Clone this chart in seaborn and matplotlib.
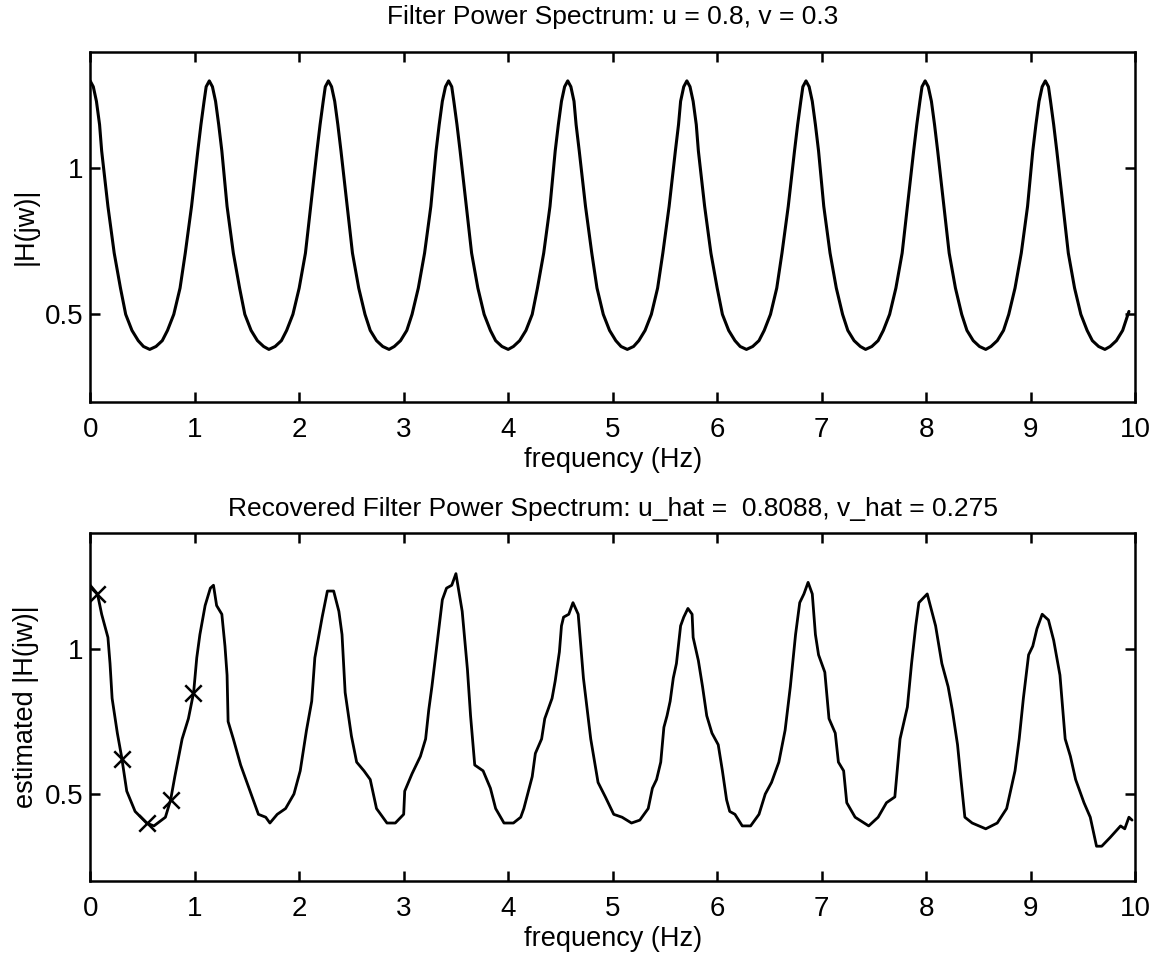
import numpy as np
import pandas as pd
import matplotlib
matplotlib.use("Agg")
import matplotlib.pyplot as plt
import seaborn as sns

# true filter spectrum, one row per period (Hz)
freq = [0.00, 0.03, 0.06, 0.09, 0.11, 0.17, 0.23, 0.29, 0.34, 0.40, 0.46, 0.51, 0.57, 0.63, 0.69, 0.74, 0.80, 0.86, 0.91, 0.97, 1.03, 1.06, 1.09, 1.11,
        1.14, 1.17, 1.20, 1.23, 1.26, 1.31, 1.37, 1.43, 1.48, 1.54, 1.60, 1.66, 1.71, 1.77, 1.83, 1.88, 1.94, 2.00, 2.06, 2.11, 2.17, 2.20, 2.23, 2.25,
        2.28, 2.31, 2.34, 2.37, 2.40, 2.46, 2.51, 2.57, 2.63, 2.68, 2.74, 2.80, 2.86, 2.91, 2.97, 3.03, 3.08, 3.14, 3.20, 3.26, 3.31, 3.34, 3.37, 3.40,
        3.43, 3.46, 3.48, 3.51, 3.54, 3.60, 3.65, 3.71, 3.77, 3.83, 3.88, 3.94, 4.00, 4.05, 4.11, 4.17, 4.23, 4.28, 4.34, 4.40, 4.45, 4.48, 4.51, 4.54,
        4.57, 4.60, 4.63, 4.65, 4.68, 4.74, 4.80, 4.85, 4.91, 4.97, 5.03, 5.08, 5.14, 5.20, 5.25, 5.31, 5.37, 5.43, 5.48, 5.54, 5.60, 5.63, 5.65, 5.68,
        5.71, 5.74, 5.77, 5.80, 5.82, 5.88, 5.94, 6.00, 6.05, 6.11, 6.17, 6.22, 6.28, 6.34, 6.40, 6.45, 6.51, 6.57, 6.62, 6.68, 6.74, 6.77, 6.80, 6.82,
        6.85, 6.88, 6.91, 6.94, 6.97, 7.02, 7.08, 7.14, 7.20, 7.25, 7.31, 7.37, 7.42, 7.48, 7.54, 7.59, 7.65, 7.71, 7.77, 7.82, 7.88, 7.91, 7.94, 7.96,
        7.99, 8.02, 8.05, 8.08, 8.11, 8.17, 8.22, 8.28, 8.34, 8.39, 8.45, 8.51, 8.57, 8.62, 8.68, 8.74, 8.79, 8.85, 8.91, 8.97, 9.02, 9.05, 9.08, 9.11,
        9.14, 9.17, 9.19, 9.22, 9.25, 9.31, 9.36, 9.42, 9.48, 9.54, 9.59, 9.65, 9.71, 9.76, 9.82, 9.88, 9.94]

H_true = [1.30, 1.28, 1.23, 1.15, 1.06, 0.87, 0.71, 0.59, 0.50, 0.445, 0.41, 0.39, 0.38, 0.39, 0.41, 0.445, 0.50, 0.59, 0.71, 0.87, 1.06, 1.15, 1.23, 1.28,
          1.30, 1.28, 1.23, 1.15, 1.06, 0.87, 0.71, 0.59, 0.50, 0.445, 0.41, 0.39, 0.38, 0.39, 0.41, 0.445, 0.50, 0.59, 0.71, 0.87, 1.06, 1.15, 1.23, 1.28,
          1.30, 1.28, 1.23, 1.15, 1.06, 0.87, 0.71, 0.59, 0.50, 0.445, 0.41, 0.39, 0.38, 0.39, 0.41, 0.445, 0.50, 0.59, 0.71, 0.87, 1.06, 1.15, 1.23, 1.28,
          1.30, 1.28, 1.23, 1.15, 1.06, 0.87, 0.71, 0.59, 0.50, 0.445, 0.41, 0.39, 0.38, 0.39, 0.41, 0.445, 0.50, 0.59, 0.71, 0.87, 1.06, 1.15, 1.23, 1.28,
          1.30, 1.28, 1.23, 1.15, 1.06, 0.87, 0.71, 0.59, 0.50, 0.445, 0.41, 0.39, 0.38, 0.39, 0.41, 0.445, 0.50, 0.59, 0.71, 0.87, 1.06, 1.15, 1.23, 1.28,
          1.30, 1.28, 1.23, 1.15, 1.06, 0.87, 0.71, 0.59, 0.50, 0.445, 0.41, 0.39, 0.38, 0.39, 0.41, 0.445, 0.50, 0.59, 0.71, 0.87, 1.06, 1.15, 1.23, 1.28,
          1.30, 1.28, 1.23, 1.15, 1.06, 0.87, 0.71, 0.59, 0.50, 0.445, 0.41, 0.39, 0.38, 0.39, 0.41, 0.445, 0.50, 0.59, 0.71, 0.87, 1.06, 1.15, 1.23, 1.28,
          1.30, 1.28, 1.23, 1.15, 1.06, 0.87, 0.71, 0.59, 0.50, 0.445, 0.41, 0.39, 0.38, 0.39, 0.41, 0.445, 0.50, 0.59, 0.71, 0.87, 1.06, 1.15, 1.23, 1.28,
          1.30, 1.28, 1.23, 1.15, 1.06, 0.87, 0.71, 0.59, 0.50, 0.445, 0.41, 0.39, 0.38, 0.39, 0.41, 0.445, 0.51]

# recovered (estimated) spectrum
freq_est = [0.00, 0.07, 0.11, 0.17, 0.19, 0.21, 0.26, 0.30, 0.35, 0.43, 0.54, 0.61, 0.72, 0.77, 0.81, 0.88, 0.94, 0.99,
            1.02, 1.05, 1.10, 1.15, 1.18, 1.21, 1.26, 1.29, 1.31, 1.32, 1.37, 1.44, 1.52, 1.56, 1.61, 1.68, 1.72, 1.79,
            1.87, 1.95, 2.01, 2.07, 2.12, 2.15, 2.19, 2.22, 2.27, 2.33, 2.38, 2.41, 2.44, 2.50, 2.55, 2.62, 2.68, 2.74,
            2.84, 2.92, 3.00, 3.01, 3.08, 3.16, 3.21, 3.24, 3.27, 3.31, 3.37, 3.41, 3.46, 3.50, 3.56, 3.61, 3.64, 3.68,
            3.76, 3.83, 3.88, 3.96, 4.05, 4.12, 4.15, 4.23, 4.26, 4.32, 4.35, 4.42, 4.45, 4.49, 4.51, 4.53, 4.58, 4.62,
            4.67, 4.72, 4.79, 4.86, 4.93, 5.01, 5.09, 5.18, 5.26, 5.34, 5.38, 5.42, 5.46, 5.49, 5.52, 5.55, 5.58, 5.61,
            5.65, 5.68, 5.72, 5.76, 5.77, 5.82, 5.86, 5.90, 5.95, 6.01, 6.05, 6.09, 6.12, 6.17, 6.24, 6.32, 6.40, 6.46,
            6.52, 6.59, 6.65, 6.70, 6.75, 6.79, 6.83, 6.87, 6.91, 6.94, 6.97, 7.03, 7.07, 7.13, 7.16, 7.21, 7.24, 7.32,
            7.45, 7.54, 7.62, 7.70, 7.75, 7.82, 7.86, 7.90, 7.93, 8.01, 8.09, 8.15, 8.21, 8.25, 8.30, 8.33, 8.37, 8.44,
            8.57, 8.68, 8.77, 8.85, 8.89, 8.93, 8.98, 9.02, 9.06, 9.11, 9.17, 9.22, 9.28, 9.33, 9.38, 9.43, 9.51, 9.57,
            9.63, 9.68, 9.76, 9.86, 9.90, 9.94, 9.97]
H_est = [1.22, 1.19, 1.12, 1.04, 0.95, 0.83, 0.71, 0.63, 0.51, 0.44, 0.40, 0.39, 0.42, 0.48, 0.56, 0.69, 0.76, 0.85,
         0.97, 1.05, 1.15, 1.21, 1.22, 1.15, 1.12, 1.01, 0.91, 0.75, 0.69, 0.60, 0.52, 0.48, 0.43, 0.42, 0.40, 0.43,
         0.45, 0.50, 0.58, 0.72, 0.82, 0.97, 1.05, 1.11, 1.20, 1.20, 1.13, 1.05, 0.85, 0.70, 0.61, 0.58, 0.55, 0.45,
         0.40, 0.40, 0.43, 0.51, 0.57, 0.63, 0.69, 0.79, 0.87, 0.99, 1.17, 1.21, 1.22, 1.26, 1.13, 0.93, 0.77, 0.60,
         0.58, 0.52, 0.45, 0.40, 0.40, 0.42, 0.45, 0.56, 0.64, 0.69, 0.76, 0.83, 0.89, 0.99, 1.08, 1.11, 1.12, 1.16,
         1.12, 0.90, 0.69, 0.54, 0.49, 0.43, 0.42, 0.40, 0.41, 0.45, 0.52, 0.55, 0.61, 0.73, 0.77, 0.82, 0.90, 0.95,
         1.08, 1.11, 1.14, 1.12, 1.04, 0.96, 0.87, 0.77, 0.71, 0.67, 0.58, 0.48, 0.44, 0.43, 0.39, 0.39, 0.43, 0.50,
         0.54, 0.61, 0.72, 0.87, 1.05, 1.16, 1.19, 1.23, 1.19, 1.05, 0.98, 0.92, 0.76, 0.71, 0.61, 0.58, 0.47, 0.42,
         0.39, 0.42, 0.47, 0.49, 0.69, 0.80, 0.95, 1.08, 1.16, 1.19, 1.08, 0.95, 0.87, 0.79, 0.67, 0.56, 0.42, 0.40,
         0.38, 0.40, 0.45, 0.58, 0.69, 0.83, 0.98, 1.01, 1.07, 1.12, 1.10, 1.03, 0.91, 0.69, 0.63, 0.55, 0.47, 0.42,
         0.32, 0.32, 0.35, 0.39, 0.38, 0.42, 0.41]

# sample points marked with x
freq_marks = [0.07, 0.30, 0.54, 0.77, 0.98]
H_marks = [1.19, 0.62, 0.40, 0.48, 0.85]

yticks = [0.5, 1]
ytick_labels = ["0.5", "1"]
xticks = list(range(0, 11))

sns.set_style("ticks")
plt.rcParams['font.family'] = ['Liberation Sans', 'DejaVu Sans']
plt.rcParams['axes.linewidth'] = 1.8
plt.rcParams['text.color'] = 'black'
plt.rcParams['axes.labelcolor'] = 'black'
plt.rcParams['axes.titlecolor'] = 'black'

fig = plt.figure(figsize=(11.56, 9.57), dpi=100)
ax1 = fig.add_axes([0.078, 0.580, 0.904, 0.366])
ax2 = fig.add_axes([0.078, 0.0794, 0.904, 0.3636])

true_df = pd.DataFrame({'freq': freq, 'H': H_true})
est_df = pd.DataFrame({'freq': freq_est, 'H': H_est})
mark_df = pd.DataFrame({'freq': freq_marks, 'H': H_marks})

sns.lineplot(data=true_df, x='freq', y='H', ax=ax1, color='black', linewidth=2.2, estimator=None, sort=False)
sns.lineplot(data=est_df, x='freq', y='H', ax=ax2, color='black', linewidth=2.0, estimator=None, sort=False)
sns.scatterplot(data=mark_df, x='freq', y='H', ax=ax2, marker='x', color='black', s=140, linewidth=1.8, zorder=3)

titles = ["Filter Power Spectrum: u = 0.8, v = 0.3",
          "Recovered Filter Power Spectrum: u_hat =  0.8088, v_hat = 0.275"]
ylabels = ["|H(jw)|", "estimated |H(jw)|"]
title_pads = [20, 12]

for ax, title, ylab, tpad in zip([ax1, ax2], titles, ylabels, title_pads):
    ax.set_xlim(0, 10)
    ax.set_ylim(0.2, 1.4)
    ax.set_xticks(xticks)
    ax.set_yticks(yticks)
    ax.set_yticklabels(ytick_labels)
    ax.tick_params(direction='in', length=7, width=1.8, top=True, right=True,
                   labelsize=20, colors='black')
    ax.tick_params(axis='x', pad=11)
    ax.tick_params(axis='y', pad=5)
    for sp in ax.spines.values():
        sp.set_visible(True)
        sp.set_color('black')
    ax.set_title(title, fontsize=19, pad=tpad, color='black')
    ax.set_xlabel("frequency (Hz)", fontsize=19.5, labelpad=3, color='black')
    ax.set_ylabel(ylab, fontsize=19.5, labelpad=4, color='black')

fig.savefig("out.png", dpi=100, facecolor='white')
